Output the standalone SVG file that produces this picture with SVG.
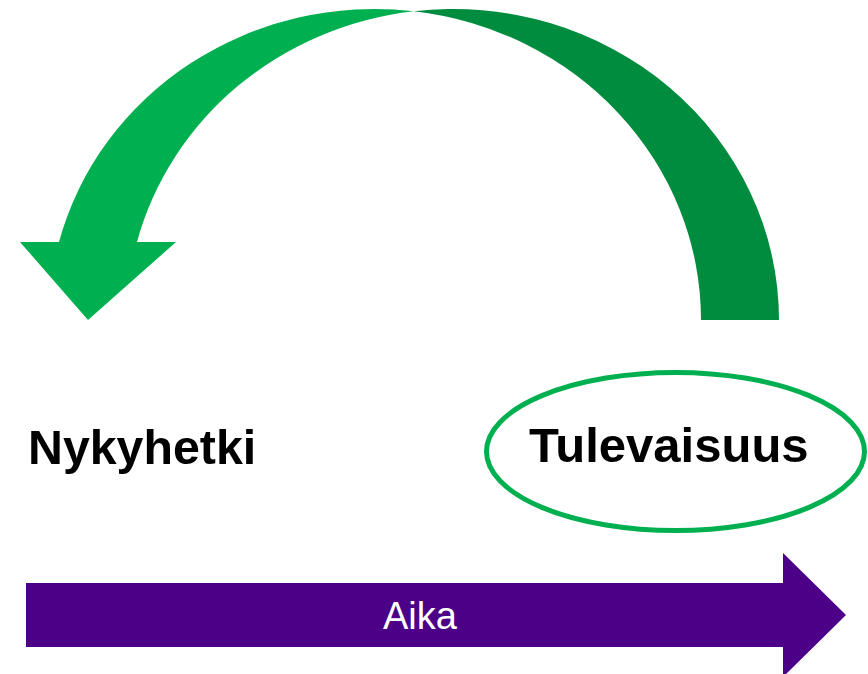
<svg xmlns="http://www.w3.org/2000/svg" width="868" height="674" viewBox="0 0 868 674">
  <style>
    .label { font-family: "Liberation Sans", Arial, sans-serif; font-weight: bold; fill: #000000; }
    .timeline-label { font-family: "Liberation Sans", Arial, sans-serif; fill: #ffffff; }
    .arc-front { fill: #00B050; }
    .arc-back { fill: #008C3E; }
  </style>
  <rect width="868" height="674" fill="#ffffff"/>

  <!-- Curved arrow from the future back to the present: two offset ellipses form the band -->
  <g id="connectors">
    <path class="arc-back" d="M 413.8 11.2 A 326.2 311 0 0 1 779 320 L 701 320 A 326.2 311 0 0 0 413.8 11.2 Z"/>
    <path class="arc-front" d="M 20 242 L 59 242 A 326.2 311 0 0 1 413.8 11.2 A 326.2 311 0 0 0 137 242 L 176 242 L 88 320 Z"/>
  </g>

  <g id="nykyhetki">
    <text class="label" x="28" y="464" font-size="48.3">Nykyhetki</text>
  </g>

  <g id="tulevaisuus">
    <ellipse cx="675.5" cy="451.5" rx="189" ry="79" fill="none" stroke="#00B050" stroke-width="5"/>
    <text class="label" x="529" y="462" font-size="49">Tulevaisuus</text>
  </g>

  <!-- Time axis -->
  <g id="aika">
    <path d="M 26 583 L 783 583 L 783 553 L 846 615 L 783 677 L 783 647 L 26 647 Z" fill="#4B0087"/>
    <text class="timeline-label" x="383" y="629" font-size="38">Aika</text>
  </g>
</svg>
